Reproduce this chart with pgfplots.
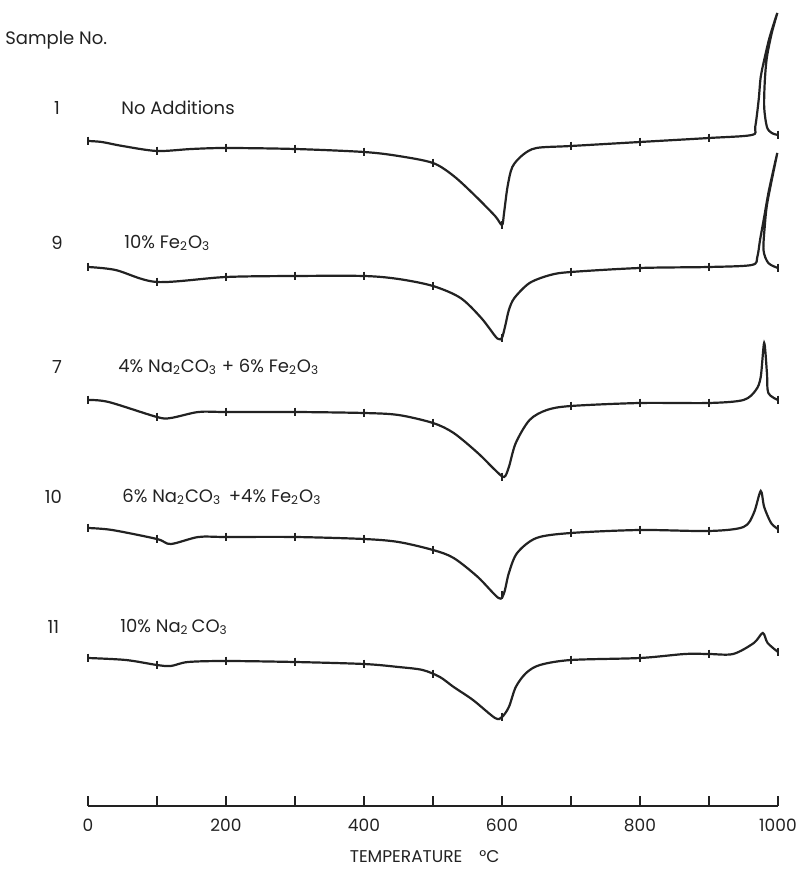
\documentclass[border=0pt]{standalone}
\usepackage{fontspec}
\setmainfont{Poppins}
\usepackage{pgfplots}
\pgfplotsset{compat=1.18}

\definecolor{ink}{HTML}{222222}

\begin{document}
\begin{tikzpicture}
\begin{axis}[
    scale only axis,
    width=345pt, height=403pt,
    xmin=0, xmax=1000,
    ymin=-806, ymax=0,
    clip=false,
    axis x line=bottom,
    axis y line=none,
    axis line style={-, ink, line width=1pt},
    xtick={0,200,...,1000},
    minor xtick={100,300,...,900},
    tick align=inside,
    major tick length=5pt,
    minor tick length=5pt,
    every tick/.style={ink, line width=0.8pt},
    xticklabel style={font=\fontsize{8.5}{10}\selectfont, text=ink, yshift=-3pt},
    /pgf/number format/assume math mode=true,
    /pgf/number format/1000 sep={},
    curve/.style={ink, line width=1.1pt, smooth, tension=0.5, no marks},
    tics/.style={only marks, mark=|, mark size=2.2pt, mark options={ink, line width=0.8pt}},
]
% bounding box of the whole figure
\path (axis cs:-127.5,0) rectangle (axis cs:1031.9,-872);

% sample 1 - no additions
\addplot[curve] coordinates {(0,-141) (20,-142) (50,-146) (100,-151) (150,-149) (200,-148)
  (300,-149) (400,-152) (450,-156) (500,-163) (530,-176) (560,-195) (590,-216) (600,-225)
  (603,-213) (608,-187) (615,-167) (630,-155) (650,-148) (700,-146) (800,-142) (900,-138)
  (962,-135) (967,-127) (972,-100) (975,-77) (981,-57) (988,-37) (999,-13)
  (991,-33) (984,-57) (981,-80) (980,-107) (984,-127) (991,-133) (1000,-135)};
\addplot[tics] coordinates {(0,-141) (100,-151) (200,-148) (300,-149) (400,-152) (500,-163)
  (600,-225) (700,-146) (800,-142) (900,-138) (1000,-135)};

% sample 9 - 10% Fe2O3
\addplot[curve] coordinates {(0,-267) (40,-270) (100,-282) (200,-277) (300,-276) (400,-276)
  (450,-279) (500,-286) (540,-298) (570,-318) (590,-336) (595,-339) (600,-338) (605,-325)
  (610,-310) (618,-298) (640,-283) (670,-275) (700,-272) (800,-268) (900,-267)
  (962,-265) (970,-257) (974,-240) (980,-217) (987,-190) (999,-153)
  (991,-180) (984,-205) (981,-225) (979,-250) (986,-263) (1000,-268)};
\addplot[tics] coordinates {(0,-267) (100,-282) (200,-277) (300,-276) (400,-276) (500,-286)
  (600,-338) (700,-272) (800,-268) (900,-267) (1000,-268)};

% sample 7 - 4% Na2CO3 + 6% Fe2O3
\addplot[curve] coordinates {(0,-400) (30,-402) (100,-417) (120,-418) (160,-412) (200,-412)
  (300,-412) (400,-413) (450,-415) (500,-423) (530,-433) (565,-453) (590,-470) (603,-477)
  (610,-467) (620,-443) (640,-420) (665,-410) (700,-406) (800,-403) (900,-403) (950,-400)
  (968,-390) (975,-377) (980,-343) (984,-373) (986,-393) (1000,-400)};
\addplot[tics] coordinates {(0,-400) (100,-417) (200,-412) (300,-412) (400,-413) (500,-423)
  (600,-477) (700,-406) (800,-403) (900,-403) (1000,-400)};

% sample 10 - 6% Na2CO3 + 4% Fe2O3
\addplot[curve] coordinates {(0,-528) (35,-530) (100,-539) (120,-544) (160,-537) (200,-537)
  (300,-537) (400,-539) (450,-542) (500,-550) (530,-558) (565,-577) (595,-598) (603,-593)
  (610,-573) (622,-553) (650,-538) (700,-533) (800,-530) (900,-531) (950,-527)
  (965,-513) (975,-491) (980,-507) (990,-523) (1000,-529)};
\addplot[tics] coordinates {(0,-528) (100,-539) (200,-537) (300,-537) (400,-539) (500,-550)
  (600,-595) (700,-533) (800,-530) (900,-531) (1000,-529)};

% sample 11 - 10% Na2CO3
\addplot[curve] coordinates {(0,-658) (55,-660) (100,-665) (120,-666) (145,-662) (200,-661)
  (300,-662) (400,-664) (450,-667) (485,-670) (510,-677) (530,-687) (558,-700) (590,-718) (600,-717)
  (610,-707) (620,-687) (635,-673) (655,-665) (700,-660) (800,-658) (865,-654) (900,-654)
  (935,-654) (965,-643) (978,-633) (985,-643) (1000,-652)};
\addplot[tics] coordinates {(0,-658) (100,-665) (200,-661) (300,-662) (400,-664) (500,-674)
  (600,-717) (700,-660) (800,-658) (900,-654) (1000,-652)};

% labels
\begin{scope}[every node/.style={text=ink, inner sep=0pt, font=\fontsize{9}{11}\selectfont}]
\node[anchor=west] at (axis cs:-120.3,-40) {Sample No.};
\node at (axis cs:-44.9,-108) {1};
\node at (axis cs:-44.9,-243) {9};
\node at (axis cs:-44.9,-367) {7};
\node at (axis cs:-50,-497) {10};
\node at (axis cs:-50,-627) {11};
\node[anchor=west] at (axis cs:47.8,-108) {No Additions};
\node[anchor=west] at (axis cs:52.2,-243) {10\% Fe\textsubscript{2}O\textsubscript{3}};
\node[anchor=west] at (axis cs:43.5,-367) {4\% Na\textsubscript{2}CO\textsubscript{3} + 6\% Fe\textsubscript{2}O\textsubscript{3}};
\node[anchor=west] at (axis cs:49.3,-497) {6\% Na\textsubscript{2}CO\textsubscript{3} \,+4\% Fe\textsubscript{2}O\textsubscript{3}};
\node[anchor=west] at (axis cs:46.4,-627) {10\% Na\textsubscript{2}\,CO\textsubscript{3}};
\node[font=\fontsize{8.5}{10}\selectfont] at (axis cs:488,-857) {TEMPERATURE\quad °C};
\end{scope}
\end{axis}
\end{tikzpicture}
\end{document}
